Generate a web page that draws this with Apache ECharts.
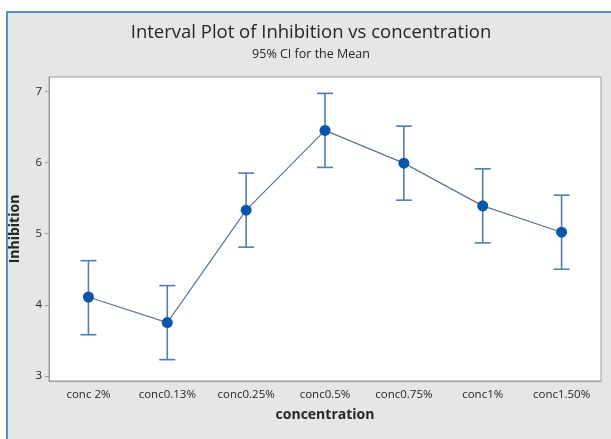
<!DOCTYPE html>
<html>
<head>
<meta charset="utf-8">
<script src="https://cdn.jsdelivr.net/npm/echarts@6/dist/echarts.min.js"></script>
<style>
  html, body { margin: 0; padding: 0; background: #ffffff; }
  #chart { width: 611px; height: 439px; }
</style>
</head>
<body>
<div id="chart"></div>
<script>
// Group labels along the x axis
const categories = ['conc 2%', 'conc0.13%', 'conc0.25%', 'conc0.5%', 'conc0.75%', 'conc1%', 'conc1.50%'];
// Group means of Inhibition
const means = [4.11, 3.75, 5.33, 6.45, 5.99, 5.39, 5.02];
// 95% confidence limits for each mean
const lower = [3.58, 3.23, 4.81, 5.93, 5.47, 4.87, 4.50];
const upper = [4.62, 4.27, 5.85, 6.97, 6.51, 5.91, 5.54];
// Y-axis tick labels
const yTicks = [3, 4, 5, 6, 7];

const FONT = '"Open Sans", "Noto Sans", sans-serif';
const TEXT = '#262626';
const FRAME = '#9c9c9c';

const chart = echarts.init(document.getElementById('chart'), null, { renderer: 'canvas' });

const errorData = categories.map((c, i) => [i, lower[i], upper[i]]);

chart.setOption({
  backgroundColor: '#ffffff',
  animation: false,
  graphic: [
    {
      type: 'rect',
      z: -10,
      silent: true,
      shape: { x: 7, y: 12, width: 610, height: 440 },
      style: { fill: '#e6e6e6', stroke: '#5b8dd3', lineWidth: 2 }
    }
  ],
  title: {
    text: 'Interval Plot of Inhibition vs concentration',
    subtext: '95% CI for the Mean',
    left: 306,
    textAlign: 'center',
    top: 18,
    itemGap: 6,
    textStyle: { fontFamily: FONT, fontSize: 18.5, fontWeight: 'normal', color: TEXT },
    subtextStyle: { fontFamily: FONT, fontSize: 12.5, color: TEXT }
  },
  grid: {
    left: 48, right: 10, top: 77, bottom: 58,
    show: true,
    backgroundColor: '#ffffff',
    borderColor: FRAME,
    borderWidth: 1
  },
  xAxis: {
    type: 'category',
    data: categories,
    boundaryGap: true,
    name: 'concentration',
    nameLocation: 'middle',
    nameGap: 27,
    nameTextStyle: { fontFamily: FONT, fontSize: 14, fontWeight: 'bold', color: TEXT },
    axisLine: { lineStyle: { color: FRAME } },
    axisTick: { alignWithLabel: true, length: 4, lineStyle: { color: FRAME } },
    axisLabel: { fontFamily: FONT, fontSize: 11.5, color: TEXT, margin: 8 },
    splitLine: { show: false }
  },
  yAxis: {
    type: 'value',
    min: 2.93,
    max: 7.2,
    name: 'Inhibition',
    nameLocation: 'middle',
    nameGap: 27,
    nameTextStyle: { fontFamily: FONT, fontSize: 14, fontWeight: 'bold', color: TEXT },
    axisLine: { show: true, lineStyle: { color: FRAME } },
    axisTick: { show: true, length: 4, customValues: yTicks, lineStyle: { color: FRAME } },
    axisLabel: { fontFamily: FONT, fontSize: 11.5, color: TEXT, margin: 7, customValues: yTicks },
    splitLine: { show: false }
  },
  series: [
    {
      type: 'custom',
      name: 'CI',
      data: errorData,
      z: 2,
      renderItem: function (params, api) {
        const x = api.value(0);
        const lo = api.coord([x, api.value(1)]);
        const hi = api.coord([x, api.value(2)]);
        const cap = 8;
        const style = { stroke: '#4f7fae', lineWidth: 1.6 };
        return {
          type: 'group',
          children: [
            { type: 'line', shape: { x1: hi[0], y1: hi[1], x2: lo[0], y2: lo[1] }, style },
            { type: 'line', shape: { x1: hi[0] - cap, y1: hi[1], x2: hi[0] + cap, y2: hi[1] }, style },
            { type: 'line', shape: { x1: lo[0] - cap, y1: lo[1], x2: lo[0] + cap, y2: lo[1] }, style }
          ]
        };
      }
    },
    {
      type: 'line',
      name: 'Mean',
      data: means,
      z: 3,
      symbol: 'circle',
      symbolSize: 11,
      itemStyle: { color: '#0b56a8' },
      lineStyle: { color: '#5c7590', width: 1.2 }
    }
  ]
});
</script>
</body>
</html>
